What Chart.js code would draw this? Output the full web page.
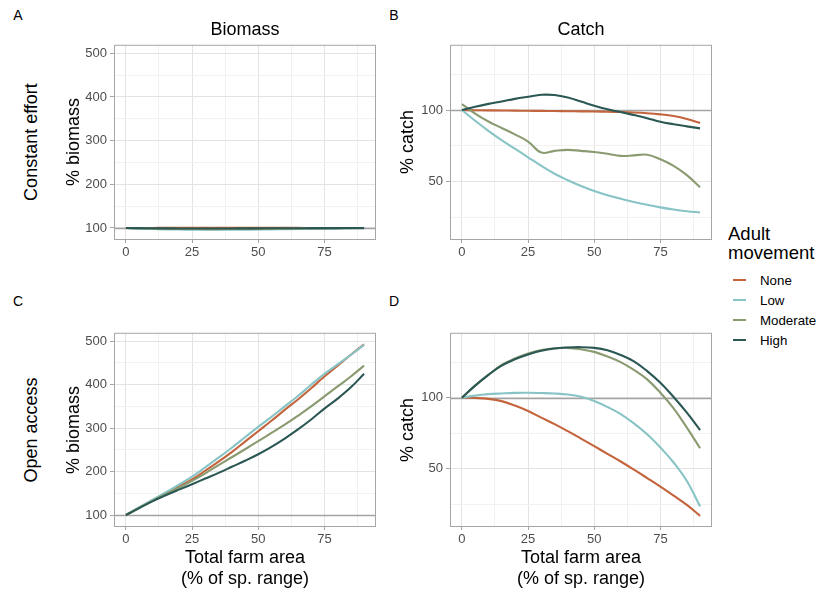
<!DOCTYPE html>
<html>
<head>
<meta charset="utf-8">
<script src="https://cdn.jsdelivr.net/npm/chart.js@4.4.0/dist/chart.umd.min.js"></script>
<style>
body{margin:0;background:#fff;font-family:"Liberation Sans",Arial,sans-serif;}
#wrap{position:relative;width:824px;height:594px;overflow:hidden;background:#fff}
canvas{position:absolute}
.t{position:absolute;white-space:nowrap;color:#000;line-height:1}
.c{transform:translate(-50%,-50%)}
.v{transform:translate(-50%,-50%) rotate(-90deg)}
.tag{font-size:14px}
.ttl{font-size:18px}
.leg{position:absolute;left:728px;top:224px;font-size:18.5px;line-height:19px}
.item{position:absolute;left:733px;height:20px;font-size:13.3px}
.item i{position:absolute;left:0;top:9px;width:13px;height:2px}
.item span{position:absolute;left:27px;top:50%;transform:translateY(-50%);white-space:nowrap}
</style>
</head>
<body>
<div id="wrap">
  <canvas id="pA" width="327" height="238"></canvas>
  <canvas id="pB" width="327" height="238"></canvas>
  <canvas id="pC" width="327" height="237"></canvas>
  <canvas id="pD" width="327" height="237"></canvas>

  <div class="t c tag" style="left:18px;top:14.5px">A</div>
  <div class="t c tag" style="left:394px;top:14.5px">B</div>
  <div class="t c tag" style="left:18px;top:301px">C</div>
  <div class="t c tag" style="left:394px;top:301px">D</div>

  <div class="t c ttl" style="left:245px;top:28.5px">Biomass</div>
  <div class="t c ttl" style="left:581px;top:28.5px">Catch</div>

  <div class="t v ttl" style="left:31px;top:142px">Constant effort</div>
  <div class="t v ttl" style="left:31px;top:429.5px">Open access</div>

  <div class="t v ttl" style="left:72.5px;top:142px">% biomass</div>
  <div class="t v ttl" style="left:72.5px;top:429.5px">% biomass</div>
  <div class="t v ttl" style="left:407px;top:142px">% catch</div>
  <div class="t v ttl" style="left:407px;top:429.5px">% catch</div>

  <div class="t c ttl" style="left:245px;top:557px">Total farm area</div>
  <div class="t c ttl" style="left:245px;top:578px">(% of sp. range)</div>
  <div class="t c ttl" style="left:581px;top:557px">Total farm area</div>
  <div class="t c ttl" style="left:581px;top:578px">(% of sp. range)</div>

  <div class="leg">Adult<br>movement</div>
  <div id="legend"></div>
</div>
<script>
// farm area (% of species range) on the x axis
const farmArea = [0,5,10,15,20,25,30,35,40,45,50,55,60,65,70,75,80,85,90];
const movement = ['None','Low','Moderate','High'];
const colours = ['#c3643d','#88c4c6','#8b9b71','#2b5854'];

// A: biomass, constant effort
const bioEffortNone = [100,100,100.1,100.2,100.2,100.3,100.3,100.3,100.3,100.3,100.3,100.2,100.2,100.2,100.1,100.1,100,100,100];
const bioEffortLow = [100,98.6,97.6,96.9,96.4,96.1,95.9,95.9,96,96.2,96.5,96.8,97.2,97.6,98,98.4,98.8,99.2,99.5];
const bioEffortModerate = [100,99.1,98.5,98.1,97.8,97.6,97.5,97.5,97.6,97.7,97.9,98.1,98.3,98.6,98.9,99.1,99.4,99.6,99.8];
const bioEffortHigh = [100,99.6,99.3,99.1,99,98.9,98.9,98.9,99,99.1,99.2,99.3,99.4,99.5,99.6,99.7,99.8,99.9,100];

// B: catch, constant effort
const catchEffortNone = [100,99.9,99.8,99.7,99.6,99.5,99.4,99.3,99.2,99.1,99,98.8,98.6,98.3,97.8,97,95.8,93.8,91];
const catchEffortLow = [100,92.5,85.5,79,73,67,61,55.5,51,47,43.5,40.5,38,35.8,33.8,32,30.5,29.3,28.4];
const catchEffortModerate = [104.2,97.5,92,87.5,83,78,70.3,71.5,72.2,71.5,70.7,69.5,68,68.3,68.8,65.6,61,54.5,46];
const catchEffortHigh = [100,102.3,104.3,106,107.8,109.3,110.7,110.5,108.8,106,103,100.5,98.6,96.5,94.3,91.8,90.1,88.6,87.2];

// C: biomass, open access
const bioAccessNone = [100,117,134,150,166,182,202,223,245,269,293,317,342,366,392,419,444,469,493];
const bioAccessLow = [100,118,135,152,170,188.5,210,232,255,279,303,326,350,374,400,425,447,469,491.5];
const bioAccessModerate = [100,116.5,132.5,148,163,178.6,196,215,233,251.5,270,289,308,328.5,350,373,396,419,444];
const bioAccessHigh = [100,116,131.5,145.5,158.5,171,184,197,211,225,240,257,276,297,320,345,368,394,425];

// D: catch, open access
const catchAccessNone = [100,99.8,99.2,97.6,94.5,90.7,86,81.5,76.5,71.3,66,60.6,55.2,49.5,43.6,37.6,31.3,24.7,17];
const catchAccessLow = [100,101.5,102.5,103,103.4,103.5,103.3,103,102.3,100.7,97.7,93.5,88.5,82,74.3,65,54.5,41.5,23.6];
const catchAccessModerate = [100,108.5,116,123,127.5,131,133.5,134.8,135,134,132.2,129,125,119.5,112.9,103.5,92.5,79,64.5];
const catchAccessHigh = [100,108.5,116,122.5,127,130.4,133,134.6,135.3,135.5,135,133.3,130,125.5,118.7,110.5,100.5,89.5,77.3];

// axis breaks (major + minor) and labelled breaks
const xBreaks = [0,12.5,25,37.5,50,62.5,75,87.5];
const xLabels = [0,25,50,75];
const bioBreaks = [100,150,200,250,300,350,400,450,500];
const bioLabels = [100,200,300,400,500];
const catchBreaks = [25,50,75,100,125];
const catchLabels = [50,100];

Chart.defaults.font.family = '"Liberation Sans", Arial, sans-serif';

const refLine = 100;
const frame = {
  id:'frame',
  beforeDatasetsDraw(chart){
    const {ctx, chartArea:a, scales:{y}} = chart;
    const py = Math.round(y.getPixelForValue(refLine)) + 0.5;
    ctx.save();
    ctx.strokeStyle = '#a3a3a3'; ctx.lineWidth = 1.3;
    ctx.beginPath(); ctx.moveTo(a.left, py); ctx.lineTo(a.right, py); ctx.stroke();
    ctx.restore();
  },
  afterDraw(chart){
    const {ctx, chartArea:a} = chart;
    ctx.save();
    ctx.strokeStyle = '#a6a6a6'; ctx.lineWidth = 1;
    ctx.strokeRect(a.left + 0.5, a.top + 0.5, a.right - a.left - 1, a.bottom - a.top - 1);
    ctx.restore();
  }
};

function axis(breaks, labels, min, max, isX){
  const major = v => labels.includes(v);
  return {
    type:'linear', min, max,
    afterBuildTicks: s => { s.ticks = breaks.map(v => ({value:v})); },
    afterFit: s => { if (isX) s.height = 32; else s.width = 55; },
    ticks:{
      autoSkip:false, maxRotation:0, padding: isX ? 2 : 3,
      color:'#4d4d4d', font:{size:13},
      callback: v => major(v) ? String(v) : ''
    },
    grid:{
      color: c => major(c.tick.value) ? '#e3e3e3' : '#f1f1f1',
      lineWidth: 1,
      drawTicks:true, tickLength: isX ? 3 : 4, tickWidth:1,
      tickColor: c => major(c.tick.value) ? '#a6a6a6' : 'rgba(0,0,0,0)'
    },
    border:{display:false}
  };
}

function panel(id, left, top, series, yBreaks, yLabels, yMin, yMax){
  const cv = document.getElementById(id);
  cv.style.left = (left - 55) + 'px';
  cv.style.top = (top - 10) + 'px';
  new Chart(cv, {
    type:'line',
    data:{
      labels: farmArea,
      datasets: series.map((d, i) => ({
        label: movement[i],
        data: farmArea.map((x, k) => ({x, y:d[k]})),
        borderColor: colours[i], borderWidth: 2.1,
        pointRadius: 0, fill:false,
        tension: 0.4,
        order: series.length - 1 - i
      }))
    },
    options:{
      responsive:false, animation:false, events:[],
      layout:{padding:{left:0, top:10, right:10, bottom:0}},
      plugins:{legend:{display:false}, tooltip:{enabled:false}},
      scales:{
        x: axis(xBreaks, xLabels, -4.5, 94.5, true),
        y: axis(yBreaks, yLabels, yMin, yMax, false)
      }
    },
    plugins:[frame]
  });
}

panel('pA', 114, 44, [bioEffortNone, bioEffortLow, bioEffortModerate, bioEffortHigh], bioBreaks, bioLabels, 72.5, 519.5);
panel('pB', 450, 44, [catchEffortNone, catchEffortLow, catchEffortModerate, catchEffortHigh], catchBreaks, catchLabels, 9.2, 145.6);
panel('pC', 114, 332, [bioAccessNone, bioAccessLow, bioAccessModerate, bioAccessHigh], bioBreaks, bioLabels, 72.5, 519.5);
panel('pD', 450, 332, [catchAccessNone, catchAccessLow, catchAccessModerate, catchAccessHigh], catchBreaks, catchLabels, 9.2, 145.6);

// legend keys
const legend = document.getElementById('legend');
movement.forEach((m, i) => {
  const el = document.createElement('div');
  el.className = 'item';
  el.style.top = (270 + i * 20) + 'px';
  el.innerHTML = `<i style="background:${colours[i]}"></i><span>${m}</span>`;
  legend.appendChild(el);
});
</script>
</body>
</html>
